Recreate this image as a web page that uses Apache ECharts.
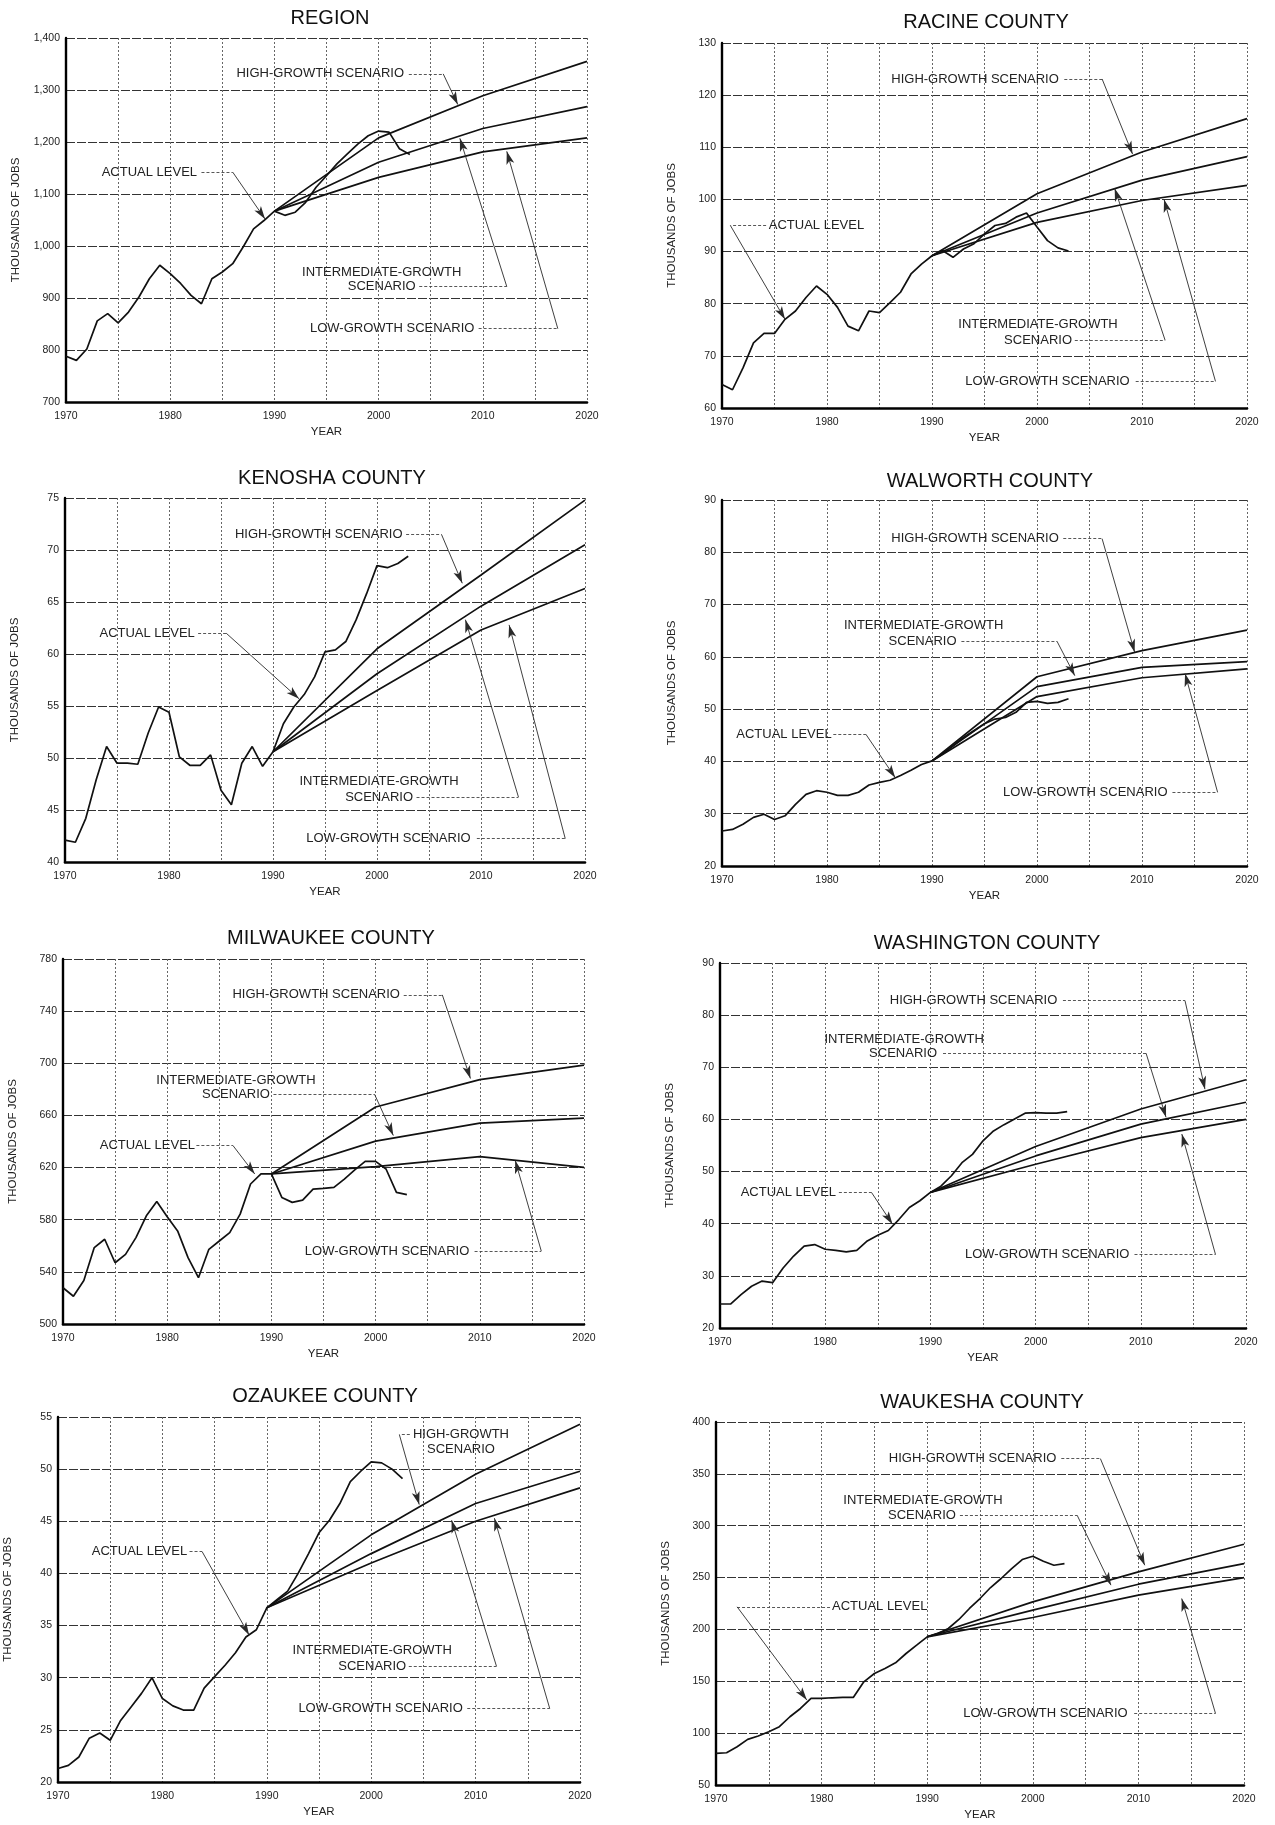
<!DOCTYPE html>
<html>
<head>
<meta charset="utf-8">
<title>Employment Levels and Projections by County</title>
<script src="https://cdn.jsdelivr.net/npm/echarts@6/dist/echarts.min.js"></script>
<style>
  html, body { margin: 0; padding: 0; background: #ffffff; }
  #chart { width: 1275px; height: 1825px; }
</style>
</head>
<body>
<div id="chart"></div>
<script>
// ---- Years ----
const ACTUAL_YEARS = [1970, 1971, 1972, 1973, 1974, 1975, 1976, 1977, 1978, 1979,
  1980, 1981, 1982, 1983, 1984, 1985, 1986, 1987, 1988, 1989,
  1990, 1991, 1992, 1993, 1994, 1995, 1996, 1997, 1998, 1999,
  2000, 2001, 2002, 2003];
const PROJ_YEARS = [1990, 2000, 2010, 2020];
const X_TICKS = [1970, 1975, 1980, 1985, 1990, 1995, 2000, 2005, 2010, 2015, 2020];

// ---- Region (thousands of jobs) ----
const regionActual = [788, 780, 802, 856, 870, 852, 873, 902, 937, 963,
  947, 928, 905, 889, 937, 950, 966, 998, 1033, 1049,
  1067, 1059, 1065, 1084, 1113, 1135, 1158, 1177, 1196, 1212,
  1221, 1219, 1187, 1176];
const regionHigh = [1067, 1208, 1289, 1355];
const regionMid = [1067, 1161, 1226, 1268];
const regionLow = [1067, 1132, 1181, 1208];
const regionTicks = [700, 800, 900, 1000, 1100, 1200, 1300, 1400];

// ---- Racine County ----
const racineActual = [64.5, 63.5, 67.7, 72.5, 74.3, 74.3, 77.0, 78.6, 81.2, 83.4,
  81.8, 79.3, 75.7, 74.8, 78.6, 78.3, 80.2, 82.2, 85.7, 87.6,
  89.2, 90.2, 88.9, 90.5, 91.5, 93.4, 95.0, 95.4, 96.6, 97.4,
  94.7, 92.1, 90.7, 90.1];
const racineHigh = [89.2, 101.1, 109.1, 115.5];
const racineMid = [89.2, 97.4, 103.7, 108.2];
const racineLow = [89.2, 95.6, 99.8, 102.7];
const racineTicks = [60, 70, 80, 90, 100, 110, 120, 130];

// ---- Kenosha County ----
const kenoshaActual = [42.1, 41.9, 44.2, 47.9, 51.1, 49.5, 49.5, 49.4, 52.4, 54.9,
  54.4, 50.1, 49.3, 49.3, 50.3, 46.9, 45.5, 49.5, 51.1, 49.2,
  50.6, 53.3, 54.9, 56.1, 57.8, 60.2, 60.4, 61.2, 63.3, 65.8,
  68.5, 68.3, 68.7, 69.4];
const kenoshaHigh = [50.6, 60.5, 67.6, 74.8];
const kenoshaMid = [50.6, 58.1, 64.6, 70.5];
const kenoshaLow = [50.6, 56.5, 62.3, 66.3];
const kenoshaTicks = [40, 45, 50, 55, 60, 65, 70, 75];

// ---- Walworth County ----
const walworthActual = [26.7, 27.0, 28.0, 29.3, 29.9, 28.9, 29.6, 31.8, 33.7, 34.4,
  34.1, 33.5, 33.5, 34.1, 35.5, 36.0, 36.4, 37.3, 38.3, 39.4,
  40.1, 41.4, 43.0, 44.6, 45.9, 47.2, 48.1, 48.4, 49.4, 51.3,
  51.5, 51.1, 51.3, 52.0];
const walworthHigh = [40.1, 56.2, 61.2, 65.1];
const walworthMid = [40.1, 54.3, 58.0, 59.1];
const walworthLow = [40.1, 52.4, 56.0, 57.7];
const walworthTicks = [20, 30, 40, 50, 60, 70, 80, 90];

// ---- Milwaukee County ----
const milwaukeeActual = [527.8, 521.3, 533.4, 558.6, 565.0, 547.0, 553.4, 566.3, 583.0, 594.0,
  582.2, 571.4, 550.9, 535.5, 557.3, 563.7, 570.1, 584.3, 607.4, 615.1,
  615.1, 597.1, 593.3, 595.0, 603.5, 604.0, 604.8, 611.2, 618.2, 624.8,
  624.8, 618.9, 601.0, 599.2];
const milwaukeeHigh = [615.1, 666.5, 687.5, 698.6];
const milwaukeeMid = [615.1, 640.3, 654.1, 658.0];
const milwaukeeLow = [615.1, 620.7, 628.4, 620.2];
const milwaukeeTicks = [500, 540, 580, 620, 660, 700, 740, 780];

// ---- Washington County ----
const washingtonActual = [24.6, 24.6, 26.4, 28.0, 29.0, 28.7, 31.5, 33.8, 35.7, 36.0,
  35.1, 34.9, 34.6, 34.9, 36.7, 37.8, 38.7, 40.8, 43.1, 44.4,
  46.0, 47.2, 49.2, 51.7, 53.3, 55.9, 57.8, 59.0, 60.1, 61.2,
  61.3, 61.2, 61.2, 61.5];
const washingtonHigh = [46.0, 54.8, 62.0, 67.6];
const washingtonMid = [46.0, 53.0, 59.1, 63.3];
const washingtonLow = [46.0, 51.4, 56.5, 60.0];
const washingtonTicks = [20, 30, 40, 50, 60, 70, 80, 90];

// ---- Ozaukee County ----
const ozaukeeActual = [21.3, 21.6, 22.4, 24.2, 24.7, 24.0, 25.9, 27.2, 28.5, 30.0,
  28.0, 27.3, 26.9, 26.9, 29.0, 30.1, 31.2, 32.4, 33.9, 34.6,
  36.7, 37.5, 38.3, 40.0, 41.9, 43.9, 45.1, 46.7, 48.8, 49.8,
  50.7, 50.6, 50.0, 49.1];
const ozaukeeHigh = [36.7, 43.7, 49.5, 54.3];
const ozaukeeMid = [36.7, 41.9, 46.7, 49.8];
const ozaukeeLow = [36.7, 41.0, 45.0, 48.2];
const ozaukeeTicks = [20, 25, 30, 35, 40, 45, 50, 55];

// ---- Waukesha County ----
const waukeshaActual = [80.5, 81.1, 86.9, 94.0, 97.2, 101.4, 106.2, 115.8, 123.8, 133.5,
  133.5, 134.1, 134.4, 134.4, 149.5, 157.5, 162.4, 167.8, 176.8, 184.8,
  192.9, 196.1, 200.9, 209.6, 220.2, 229.8, 240.4, 249.1, 258.7, 267.4,
  270.6, 265.8, 261.9, 263.5];
const waukeshaHigh = [192.9, 226.6, 255.5, 282.1];
const waukeshaMid = [192.9, 218.6, 243.6, 263.5];
const waukeshaLow = [192.9, 211.5, 233.0, 250.0];
const waukeshaTicks = [50, 100, 150, 200, 250, 300, 350, 400];

// ---- Callouts: text lines centred on [year, value]; leaders run
//      text end -> bend (dotted) -> arrow tip on the curve ----
const regionNotes = {
  text: [['HIGH-GROWTH SCENARIO', 1994.4, 1331], ['ACTUAL LEVEL', 1978.0, 1142],
         ['INTERMEDIATE-GROWTH', 2000.3, 950], ['SCENARIO', 2000.3, 922],
         ['LOW-GROWTH SCENARIO', 2001.3, 841]],
  leaders: [[[2002.9, 1331], [2006.2, 1331], [2007.6, 1272]],
            [[1983.0, 1142], [1986.0, 1142], [1989.1, 1052]],
            [[2003.9, 922], [2012.3, 922], [2007.8, 1207]],
            [[2009.6, 841], [2017.2, 841], [2012.3, 1182]]]
};
const racineNotes = {
  text: [['HIGH-GROWTH SCENARIO', 1994.1, 123.1], ['ACTUAL LEVEL', 1979.0, 95.0],
         ['INTERMEDIATE-GROWTH', 2000.1, 76.0], ['SCENARIO', 2000.1, 73.0],
         ['LOW-GROWTH SCENARIO', 2001.0, 65.1]],
  leaders: [[[2002.6, 123.1], [2006.2, 123.1], [2009.1, 108.7]],
            [[1974.2, 95.0], [1970.8, 95.0], [1976.0, 77.0]],
            [[2003.6, 73.0], [2012.2, 73.0], [2007.4, 102.1]],
            [[2009.4, 65.1], [2017.0, 65.1], [2012.1, 100.0]]]
};
const kenoshaNotes = {
  text: [['HIGH-GROWTH SCENARIO', 1994.4, 71.5], ['ACTUAL LEVEL', 1977.9, 62.0],
         ['INTERMEDIATE-GROWTH', 2000.2, 47.7], ['SCENARIO', 2000.2, 46.25],
         ['LOW-GROWTH SCENARIO', 2001.1, 42.25]],
  leaders: [[[2002.8, 71.5], [2006.2, 71.5], [2008.2, 66.8]],
            [[1982.8, 62.0], [1985.5, 62.0], [1992.5, 55.7]],
            [[2003.8, 46.25], [2013.6, 46.25], [2008.5, 63.3]],
            [[2009.6, 42.25], [2018.1, 42.25], [2012.7, 62.8]]]
};
const walworthNotes = {
  text: [['HIGH-GROWTH SCENARIO', 1994.1, 82.6], ['INTERMEDIATE-GROWTH', 1989.2, 66.0],
         ['SCENARIO', 1989.1, 63.0], ['ACTUAL LEVEL', 1975.9, 45.2],
         ['LOW-GROWTH SCENARIO', 2004.6, 34.1]],
  leaders: [[[2002.5, 82.6], [2006.2, 82.6], [2009.3, 60.9]],
            [[1992.8, 63.0], [2001.9, 63.0], [2003.6, 56.4]],
            [[1980.6, 45.2], [1983.7, 45.2], [1986.5, 36.9]],
            [[2012.9, 34.1], [2017.2, 34.1], [2014.1, 56.8]]]
};
const milwaukeeNotes = {
  text: [['HIGH-GROWTH SCENARIO', 1994.3, 752.5], ['INTERMEDIATE-GROWTH', 1986.6, 687.0],
         ['SCENARIO', 1986.6, 676.2], ['ACTUAL LEVEL', 1978.1, 636.9],
         ['LOW-GROWTH SCENARIO', 2001.1, 556.0]],
  leaders: [[[2002.7, 752.5], [2006.4, 752.5], [2009.1, 688.3]],
            [[1990.2, 676.2], [1999.9, 676.2], [2001.7, 644.6]],
            [[1982.8, 637.0], [1986.3, 637.0], [1988.4, 615.1]],
            [[2009.5, 556.0], [2015.9, 556.0], [2013.4, 625.4]]]
};
const washingtonNotes = {
  text: [['HIGH-GROWTH SCENARIO', 1994.1, 82.8], ['INTERMEDIATE-GROWTH', 1987.5, 75.4],
         ['SCENARIO', 1987.4, 72.7], ['ACTUAL LEVEL', 1976.5, 46.0],
         ['LOW-GROWTH SCENARIO', 2001.1, 34.1]],
  leaders: [[[2002.6, 82.8], [2014.2, 82.8], [2016.1, 65.8]],
            [[1991.2, 72.7], [2010.5, 72.7], [2012.4, 60.4]],
            [[1981.3, 46.0], [1984.4, 46.0], [1986.4, 39.9]],
            [[2009.4, 34.1], [2017.1, 34.1], [2013.9, 57.2]]]
};
const ozaukeeNotes = {
  text: [['HIGH-GROWTH', 2008.6, 53.3], ['SCENARIO', 2008.6, 51.9],
         ['ACTUAL LEVEL', 1977.8, 42.1], ['INTERMEDIATE-GROWTH', 2000.1, 32.65],
         ['SCENARIO', 2000.1, 31.1], ['LOW-GROWTH SCENARIO', 2000.9, 27.05]],
  leaders: [[[2003.7, 53.3], [2002.7, 53.3], [2004.6, 46.6]],
            [[1982.6, 42.1], [1983.8, 42.1], [1988.3, 34.1]],
            [[2003.6, 31.1], [2012.0, 31.1], [2007.7, 45.1]],
            [[2009.2, 27.05], [2017.1, 27.05], [2011.8, 45.3]]]
};
const waukeshaNotes = {
  text: [['HIGH-GROWTH SCENARIO', 1994.3, 364.7], ['INTERMEDIATE-GROWTH', 1989.6, 324.5],
         ['SCENARIO', 1989.5, 310.1], ['ACTUAL LEVEL', 1985.5, 221.8],
         ['LOW-GROWTH SCENARIO', 2001.2, 119.0]],
  leaders: [[[2002.7, 364.7], [2006.4, 364.7], [2010.6, 261.9]],
            [[1993.1, 310.1], [2004.2, 310.1], [2007.4, 242.7]],
            [[1980.8, 221.8], [1972.0, 221.8], [1978.6, 131.9]],
            [[2009.6, 119.0], [2017.3, 119.0], [2014.1, 229.8]]]
};

// ---- Panel layout ----
const panels = [
  { title: 'REGION', actual: regionActual, high: regionHigh, mid: regionMid, low: regionLow,
    ticks: regionTicks, notes: regionNotes, comma: true,
    box: { left: 66, top: 38, width: 521, height: 364 }, head: [330, 18] },
  { title: 'RACINE COUNTY', actual: racineActual, high: racineHigh, mid: racineMid, low: racineLow,
    ticks: racineTicks, notes: racineNotes,
    box: { left: 722, top: 43, width: 525, height: 365 }, head: [986, 22] },
  { title: 'KENOSHA COUNTY', actual: kenoshaActual, high: kenoshaHigh, mid: kenoshaMid, low: kenoshaLow,
    ticks: kenoshaTicks, notes: kenoshaNotes,
    box: { left: 65, top: 498, width: 520, height: 364 }, head: [332, 478] },
  { title: 'WALWORTH COUNTY', actual: walworthActual, high: walworthHigh, mid: walworthMid, low: walworthLow,
    ticks: walworthTicks, notes: walworthNotes,
    box: { left: 722, top: 500, width: 525, height: 366 }, head: [990, 481] },
  { title: 'MILWAUKEE COUNTY', actual: milwaukeeActual, high: milwaukeeHigh, mid: milwaukeeMid, low: milwaukeeLow,
    ticks: milwaukeeTicks, notes: milwaukeeNotes,
    box: { left: 63, top: 959, width: 521, height: 365 }, head: [331, 938] },
  { title: 'WASHINGTON COUNTY', actual: washingtonActual, high: washingtonHigh, mid: washingtonMid, low: washingtonLow,
    ticks: washingtonTicks, notes: washingtonNotes,
    box: { left: 720, top: 963, width: 526, height: 365 }, head: [987, 943] },
  { title: 'OZAUKEE COUNTY', actual: ozaukeeActual, high: ozaukeeHigh, mid: ozaukeeMid, low: ozaukeeLow,
    ticks: ozaukeeTicks, notes: ozaukeeNotes,
    box: { left: 58, top: 1417, width: 522, height: 365 }, head: [325, 1396] },
  { title: 'WAUKESHA COUNTY', actual: waukeshaActual, high: waukeshaHigh, mid: waukeshaMid, low: waukeshaLow,
    ticks: waukeshaTicks, notes: waukeshaNotes,
    box: { left: 716, top: 1422, width: 528, height: 363 }, head: [982, 1402] }
];

const FONT = '"Liberation Sans", Arial, Helvetica, sans-serif';
const INK = '#111111';
const pairs = (xs, ys) => xs.map((x, k) => [x, ys[k]]);

function leaderLines(notes) {
  const out = [];
  notes.leaders.forEach(([a, b, c]) => {
    out.push([
      { coord: a, symbol: 'none', lineStyle: { type: [3, 2], color: '#444', width: 0.9 } },
      { coord: b, symbol: 'none' }
    ]);
    out.push([
      { coord: b, symbol: 'none', lineStyle: { type: 'solid', color: '#2a2a2a', width: 0.9 } },
      { coord: c, symbol: 'arrow', symbolSize: [6, 13] }
    ]);
  });
  return out;
}

function noteLabels(notes) {
  return notes.text.map(([t, x, y]) => ({ coord: [x, y], name: t, value: 0 }));
}

const grid = [], xAxis = [], yAxis = [], series = [], graphic = [];

panels.forEach((p, i) => {
  grid.push(Object.assign({ containLabel: false }, p.box));

  xAxis.push({
    type: 'value', gridIndex: i,
    min: X_TICKS[0], max: X_TICKS[X_TICKS.length - 1], interval: X_TICKS[1] - X_TICKS[0],
    name: 'YEAR', nameLocation: 'middle', nameGap: 24,
    nameTextStyle: { fontFamily: FONT, fontSize: 11.5, color: '#222' },
    axisLine: { show: true, onZero: false, lineStyle: { color: '#000', width: 2.6 } },
    axisTick: { show: false },
    axisLabel: {
      fontFamily: FONT, fontSize: 10.5, color: '#222', margin: 9,
      showMinLabel: true, showMaxLabel: true,
      formatter: v => (v % 10 === 0 ? String(v) : '')
    },
    splitLine: { show: true, lineStyle: { color: '#666', width: 1, type: [2, 2] } }
  });

  const t = p.ticks;
  const step = t[1] - t[0];
  const axisStep = (t[0] % step === 0) ? step : 20;
  yAxis.push({
    type: 'value', gridIndex: i,
    min: t[0], max: t[t.length - 1], interval: axisStep,
    name: 'THOUSANDS OF JOBS', nameLocation: 'middle', nameGap: 44, nameRotate: 90,
    nameTextStyle: { fontFamily: FONT, fontSize: 11.5, color: '#222' },
    axisLine: { show: true, onZero: false, lineStyle: { color: '#000', width: 2.4 } },
    axisTick: { show: false, customValues: t },
    axisLabel: {
      fontFamily: FONT, fontSize: 10.5, color: '#222', margin: 6,
      showMinLabel: true, showMaxLabel: true, customValues: t,
      formatter: v => (p.comma ? v.toLocaleString('en-US') : String(v))
    },
    splitLine: { show: true, lineStyle: { color: '#333', width: 1.1, type: [9, 2] } }
  });

  const lineBase = {
    type: 'line', xAxisIndex: i, yAxisIndex: i,
    symbol: 'none', showSymbol: false, silent: true, animation: false,
    lineStyle: { color: INK, width: 1.7 }, z: 3
  };

  series.push(Object.assign({}, lineBase, {
    name: p.title + ' actual',
    data: pairs(ACTUAL_YEARS, p.actual),
    markLine: {
      silent: true, animation: false, symbol: ['none', 'none'],
      label: { show: false }, emphasis: { disabled: true },
      itemStyle: { color: INK },
      lineStyle: { color: '#2a2a2a', width: 0.9 },
      data: leaderLines(p.notes)
    },
    markPoint: {
      silent: true, animation: false, symbol: 'circle', symbolSize: 1,
      itemStyle: { color: 'rgba(0,0,0,0)' },
      label: {
        show: true, position: 'inside', formatter: '{b}',
        fontFamily: FONT, fontSize: 13, color: '#222'
      },
      emphasis: { disabled: true },
      data: noteLabels(p.notes)
    }
  }));
  series.push(Object.assign({}, lineBase, { name: p.title + ' high', data: pairs(PROJ_YEARS, p.high) }));
  series.push(Object.assign({}, lineBase, { name: p.title + ' intermediate', data: pairs(PROJ_YEARS, p.mid) }));
  series.push(Object.assign({}, lineBase, { name: p.title + ' low', data: pairs(PROJ_YEARS, p.low) }));

  graphic.push({
    type: 'text', x: p.head[0], y: p.head[1], silent: true,
    style: {
      text: p.title, fill: INK,
      font: '20px ' + FONT,
      align: 'center', verticalAlign: 'middle',
      textAlign: 'center', textVerticalAlign: 'middle'
    }
  });
});

const chart = echarts.init(document.getElementById('chart'), null, { renderer: 'canvas' });
chart.setOption({
  backgroundColor: '#ffffff',
  animation: false,
  textStyle: { fontFamily: FONT },
  grid: grid,
  xAxis: xAxis,
  yAxis: yAxis,
  series: series,
  graphic: graphic
});
</script>
</body>
</html>
